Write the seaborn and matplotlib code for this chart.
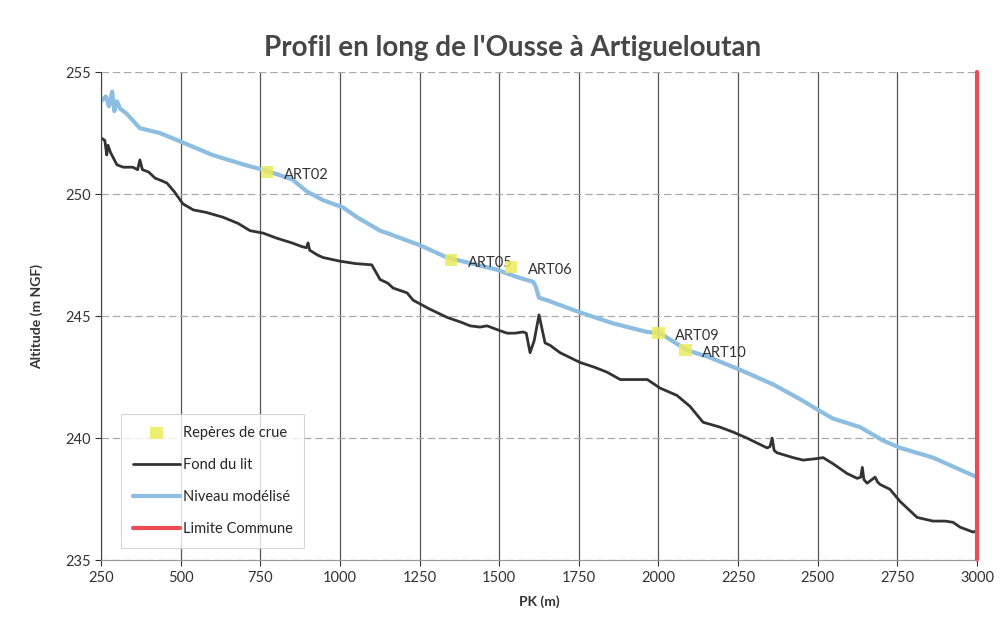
import pandas as pd
import matplotlib.pyplot as plt
import seaborn as sns

# Fond du lit (bed profile)
pk_fond = [250, 262, 268, 272, 280, 300, 320, 350, 365, 372, 380, 400, 420, 440, 457, 480, 507,
           540, 580, 633, 680, 718, 759, 800, 849, 880, 895, 900, 905, 930, 947, 1000, 1050, 1100,
           1126, 1150, 1167, 1211, 1230, 1280, 1336, 1380, 1409, 1440, 1462, 1503, 1525, 1550, 1575,
           1585, 1597, 1610, 1625, 1644, 1660, 1691, 1754, 1800, 1839, 1880, 1965, 2005, 2058, 2099,
           2140, 2193, 2234, 2278, 2341, 2350, 2357, 2363, 2372, 2423, 2454, 2490, 2517, 2548,
           2592, 2624, 2635, 2640, 2645, 2655, 2670, 2680, 2688, 2696, 2727, 2759, 2812, 2862,
           2900, 2925, 2947, 2988, 3000]
z_fond = [252.3, 252.2, 251.6, 252.0, 251.7, 251.2, 251.1, 251.1, 251.0, 251.4, 251.0, 250.9,
          250.65, 250.55, 250.45, 250.1, 249.6, 249.35, 249.25, 249.05, 248.8, 248.5, 248.4,
          248.2, 248.0, 247.85, 247.8, 248.0, 247.7, 247.5, 247.4, 247.25, 247.15, 247.1, 246.5,
          246.35, 246.15, 245.95, 245.65, 245.3, 244.95, 244.75, 244.6, 244.55, 244.6, 244.4,
          244.3, 244.3, 244.35, 244.3, 243.5, 244.0, 245.05, 243.9, 243.8, 243.5, 243.1, 242.9,
          242.7, 242.4, 242.4, 242.05, 241.75, 241.3, 240.65, 240.45, 240.25, 240.0, 239.6,
          239.65, 240.0, 239.5, 239.4, 239.2, 239.1, 239.15, 239.2, 238.95, 238.55, 238.35,
          238.4, 238.8, 238.3, 238.15, 238.3, 238.4, 238.2, 238.1, 237.9, 237.4, 236.75, 236.6,
          236.6, 236.55, 236.35, 236.15, 236.2]

# Niveau modelise (water level)
pk_eau = [250, 265, 275, 285, 292, 300, 310, 330, 372, 435, 500, 600, 700, 771, 850, 897, 947,
          1010, 1054, 1126, 1148, 1252, 1336, 1430, 1493, 1556, 1607, 1615, 1625, 1650, 1754,
          1858, 1964, 2005, 2090, 2162, 2256, 2360, 2444, 2508, 2548, 2633, 2705, 2759, 2862, 3000]
z_eau = [253.8, 254.0, 253.6, 254.2, 253.4, 253.8, 253.5, 253.3, 252.7, 252.5, 252.15, 251.6,
         251.2, 250.95, 250.6, 250.1, 249.75, 249.45, 249.05, 248.5, 248.4, 247.9, 247.4, 247.1,
         246.9, 246.6, 246.4, 246.2, 245.75, 245.65, 245.15, 244.7, 244.35, 244.3, 243.6, 243.3,
         242.8, 242.2, 241.6, 241.1, 240.8, 240.45, 239.9, 239.6, 239.2, 238.4]

# Reperes de crue
reperes = ['ART02', 'ART05', 'ART06', 'ART09', 'ART10']
pk_reperes = [771, 1349, 1537, 2000, 2085]
z_reperes = [250.9, 247.3, 247.0, 244.3, 243.6]

# Limite communale
pk_limite = [3000, 3000]
z_limite = [235, 255]

df_fond = pd.DataFrame({'PK': pk_fond, 'Z': z_fond})
df_eau = pd.DataFrame({'PK': pk_eau, 'Z': z_eau})
df_rep = pd.DataFrame({'PK': pk_reperes, 'Z': z_reperes, 'nom': reperes})
df_lim = pd.DataFrame({'PK': pk_limite, 'Z': z_limite})

sns.set_style('white')
plt.rcParams['font.family'] = ['Lato', 'DejaVu Sans']

fig = plt.figure(figsize=(10, 6.21), dpi=100)
ax = fig.add_axes([0.101, 0.098, 0.876, 0.786])

sns.scatterplot(data=df_rep, x='PK', y='Z', ax=ax, marker='s', s=80, color='#ecea5c',
                edgecolor='none', alpha=0.85, label='Repères de crue', zorder=5)
sns.lineplot(data=df_fond, x='PK', y='Z', ax=ax, color='#333333', lw=2,
             label='Fond du lit', estimator=None, sort=False)
sns.lineplot(data=df_eau, x='PK', y='Z', ax=ax, color='#8dbde0', lw=3,
             label='Niveau modélisé', estimator=None, sort=False)
sns.lineplot(data=df_lim, x='PK', y='Z', ax=ax, color='#ee4a55', lw=3,
             label='Limite Commune', estimator=None, sort=False)
ax.lines[-1].set_clip_on(False)

for _, r in df_rep.iterrows():
    ax.annotate(r['nom'], (r['PK'], r['Z']), xytext=(12, -2), textcoords='offset points',
                fontsize=10.5, color='#333333', va='center', ha='left')

ax.set_xlim(250, 3000)
ax.set_ylim(235, 255)
ax.set_xticks(range(250, 3001, 250))
ax.set_yticks(range(235, 256, 5))
ax.tick_params(axis='both', labelsize=10.5, colors='#333333', length=4, direction='out')
ax.tick_params(axis='both', bottom=True, left=True)

ax.xaxis.grid(True, color='#555555', lw=0.9)
ax.yaxis.grid(True, color='#aaaaaa', lw=0.9, ls=(0, (6, 3)))
ax.set_axisbelow(True)
for s in ['top', 'right']:
    ax.spines[s].set_visible(False)
ax.spines['left'].set_color('#444444')
ax.spines['bottom'].set_color('#999999')

ax.set_xlabel('PK (m)', fontsize=10, fontweight='bold', color='#333333', labelpad=8)
ax.set_ylabel('Altitude (m NGF)', fontsize=10, fontweight='bold', color='#333333', labelpad=16)

fig.text(0.513, 0.923, "Profil en long de l'Ousse à Artigueloutan", ha='center', va='center',
         fontsize=20, fontweight='bold', color='#474747')

leg = ax.legend(loc='lower left', bbox_to_anchor=(0.015, 0.01), fontsize=10.5, frameon=True,
                labelspacing=1.25, handlelength=3.2, handletextpad=0.2, borderpad=0.8,
                fancybox=False)
leg.get_frame().set_edgecolor('#cccccc')
leg.get_frame().set_linewidth(0.8)

fig.savefig('out.png', dpi=100)
